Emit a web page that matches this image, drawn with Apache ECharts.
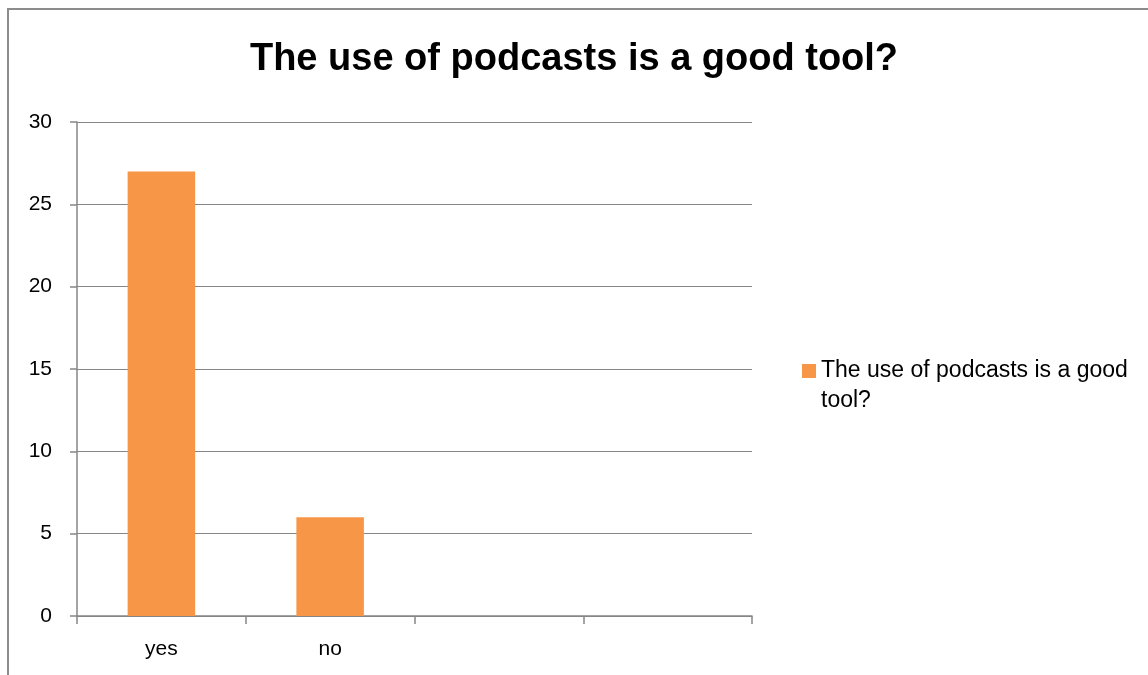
<!DOCTYPE html>
<html>
<head>
<meta charset="utf-8">
<script src="https://cdn.jsdelivr.net/npm/echarts@6/dist/echarts.min.js"></script>
<style>html,body{margin:0;padding:0;background:#fff}#c{width:1148px;height:675px}</style>
</head>
<body>
<div id="c"></div>
<script>
const titleText = 'The use of podcasts is a good tool?';
const categories = ['yes', 'no', '', ''];
const seriesName = 'The use of podcasts is a good tool?';
const values = [27, 6, null, null];
const yTicks = [0, 5, 10, 15, 20, 25, 30];

const chart = echarts.init(document.getElementById('c'), null, {renderer: 'canvas'});
const font = '"Liberation Sans", Arial, sans-serif';
chart.setOption({
  animation: false,
  backgroundColor: '#fff',
  title: {
    text: titleText,
    left: 'center',
    top: 36,
    textStyle: {fontFamily: font, fontWeight: 'bold', fontSize: 38, color: '#000'}
  },
  graphic: [{
    type: 'rect',
    shape: {x: 8, y: 9, width: 1300, height: 800},
    style: {fill: 'none', stroke: '#8c8c8c', lineWidth: 2},
    silent: true
  }],
  legend: {
    left: 797,
    top: 351,
    orient: 'vertical',
    itemWidth: 14,
    itemHeight: 44,
    icon: 'path://M0,0L14,0L14,14L0,14Z M0,43.99L0.01,44L0,44Z',
    formatter: function (n) { return 'The use of podcasts is a good\ntool?'; },
    textStyle: {fontFamily: font, fontSize: 23, color: '#000', lineHeight: 30}
  },
  grid: {left: 77, right: 396, top: 122, bottom: 59, containLabel: false},
  xAxis: {
    type: 'category',
    data: categories,
    axisLine: {lineStyle: {color: '#868686', width: 1.5}},
    axisTick: {show: true, length: 8, lineStyle: {color: '#868686', width: 1.5}},
    axisLabel: {fontFamily: font, fontSize: 21, color: '#000', margin: 23}
  },
  yAxis: {
    type: 'value',
    min: yTicks[0],
    max: yTicks[yTicks.length - 1],
    interval: 5,
    axisLine: {show: true, lineStyle: {color: '#868686', width: 1.5}},
    axisTick: {show: true, length: 7, lineStyle: {color: '#868686', width: 1.5}},
    axisLabel: {fontFamily: font, fontSize: 21, color: '#000', margin: 25},
    splitLine: {lineStyle: {color: '#868686', width: 1.2}}
  },
  series: [{
    name: seriesName,
    type: 'bar',
    data: values,
    barWidth: '40%',
    itemStyle: {color: '#F79646'}
  }]
});
</script>
</body>
</html>
